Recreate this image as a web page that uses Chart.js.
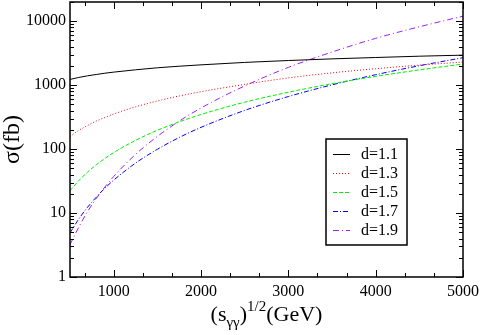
<!DOCTYPE html>
<html>
<head>
<meta charset="utf-8">
<script src="https://cdn.jsdelivr.net/npm/chart.js@4.4.0/dist/chart.umd.min.js"></script>
<style>
  html, body { margin: 0; padding: 0; background: #fff; }
  #canvasArea { width: 482px; height: 335px; }
</style>
</head>
<body>
<div id="canvasArea"><canvas id="graphCanvas"></canvas></div>
<script>
// sqrt(s_gg) in GeV
const energies = [500, 600, 700, 800, 900, 1000, 1250, 1500, 1750, 2000, 2500, 3000, 3500, 4000, 4500, 5000];
// sigma (fb) for each d
const d11 = [1230, 1320, 1400, 1470, 1540, 1600, 1740, 1870, 1980, 2080, 2270, 2430, 2580, 2710, 2840, 2950];
const d13 = [158, 196, 234, 274, 313, 354, 459, 566, 678, 791, 1030, 1300, 1560, 1810, 2060, 2300];
const d15 = [22.4, 32.1, 43.5, 56.8, 71.6, 88.3, 137, 197, 267, 348, 542, 776, 1054, 1374, 1734, 2140];
const d17 = [4.9, 8.05, 12.3, 17.7, 24.5, 32.7, 60.4, 99.3, 152, 219, 403, 664, 1012, 1459, 2014, 2690];
const d19 = [3.2, 6.0, 10.5, 16.8, 25.6, 37.3, 82.6, 158, 274, 440, 973, 1900, 3300, 5400, 8200, 12000];

const seriesLabels = ["d=1.1", "d=1.3", "d=1.5", "d=1.7", "d=1.9"];
const xTicks = [1000, 2000, 3000, 4000, 5000];
const yTicks = [1, 10, 100, 1000, 10000];

const serif = "'Liberation Serif', 'DejaVu Serif', serif";

function pts(arr) {
  return energies.map(function (e, i) { return { x: e, y: arr[i] }; });
}

function line(label, arr, color, dash) {
  return {
    label: label,
    data: pts(arr),
    borderColor: color,
    backgroundColor: color,
    borderWidth: 1,
    borderDash: dash,
    pointRadius: 0,
    fill: false,
    cubicInterpolationMode: "monotone",
  };
}

var chartData = {
  datasets: [
    line(seriesLabels[0], d11, "#000000", []),
    line(seriesLabels[1], d13, "#ff0000", [1, 2]),
    line(seriesLabels[2], d15, "#00ee00", [4, 2]),
    line(seriesLabels[3], d17, "#0000ff", [5, 2, 1, 2]),
    line(seriesLabels[4], d19, "#a020f0", [6, 3, 1, 3]),
  ],
};

// inward ticks on all four sides, frame, titles and the boxed legend
const frameAndLegend = {
  id: "frameAndLegend",
  afterDraw(chart) {
    const ctx = chart.ctx;
    const a = chart.chartArea;
    const x = chart.scales.x;
    const y = chart.scales.y;
    ctx.save();
    ctx.strokeStyle = "#000";
    ctx.lineWidth = 1;
    ctx.setLineDash([]);

    // x ticks every 1000/3, major on thousands
    for (let k = 2; k <= 15; k++) {
      const v = k * 1000 / 3;
      const px = Math.round(x.getPixelForValue(v)) + 0.5;
      const len = k % 3 === 0 ? 7 : 4;
      ctx.beginPath();
      ctx.moveTo(px, a.bottom); ctx.lineTo(px, a.bottom - len);
      ctx.moveTo(px, a.top); ctx.lineTo(px, a.top + len);
      ctx.stroke();
    }
    // y log ticks
    for (let d = 0; d <= 4; d++) {
      for (let m = 1; m <= 9; m++) {
        const v = m * Math.pow(10, d);
        if (v > y.max) continue;
        const py = Math.round(y.getPixelForValue(v)) + 0.5;
        const len = m === 1 ? 7 : 4;
        ctx.beginPath();
        ctx.moveTo(a.left, py); ctx.lineTo(a.left + len, py);
        ctx.moveTo(a.right, py); ctx.lineTo(a.right - len, py);
        ctx.stroke();
      }
    }
    // frame
    ctx.lineWidth = 1.5;
    ctx.strokeRect(a.left, a.top, a.right - a.left, a.bottom - a.top);

    // y title
    ctx.fillStyle = "#000";
    ctx.save();
    ctx.translate(19, (a.top + a.bottom) / 2);
    ctx.rotate(-Math.PI / 2);
    ctx.font = "24px " + serif;
    ctx.textAlign = "center";
    ctx.textBaseline = "alphabetic";
    ctx.fillText("\u03c3(fb)", 0, 0);
    ctx.restore();

    // x title: (s_γγ)^1/2(GeV)
    const parts = [
      { t: "(s", f: 22, dy: 0 },
      { t: "\u03b3\u03b3", f: 15, dy: 6 },
      { t: ")", f: 22, dy: 0 },
      { t: "1/2", f: 15, dy: -10 },
      { t: "(GeV)", f: 22, dy: 0 },
    ];
    let w = 0;
    parts.forEach(function (p) { ctx.font = p.f + "px " + serif; p.w = ctx.measureText(p.t).width; w += p.w; });
    let cx = (a.left + a.right) / 2 - w / 2;
    const base = 321;
    ctx.textAlign = "left";
    parts.forEach(function (p) {
      ctx.font = p.f + "px " + serif;
      ctx.fillText(p.t, cx, base + p.dy);
      cx += p.w;
    });

    // legend box
    const lx = 326, ly = 139, lw = 81, lh = 106;
    ctx.fillStyle = "#fff";
    ctx.fillRect(lx, ly, lw, lh);
    ctx.lineWidth = 1.5;
    ctx.strokeRect(lx, ly, lw, lh);
    ctx.font = "16px " + serif;
    ctx.textBaseline = "middle";
    chart.data.datasets.forEach(function (ds, i) {
      const yy = Math.round(ly + 15 + i * 19) + 0.5;
      ctx.strokeStyle = ds.borderColor;
      ctx.lineWidth = 1;
      ctx.setLineDash(ds.borderDash);
      ctx.beginPath();
      ctx.moveTo(333, yy); ctx.lineTo(350, yy);
      ctx.stroke();
      ctx.setLineDash([]);
      ctx.fillStyle = "#000";
      ctx.fillText(ds.label, 361, yy);
    });
    ctx.restore();
  },
};

var graphTarget = document.getElementById("graphCanvas");
var lineGraph = new Chart(graphTarget, {
  type: "line",
  data: chartData,
  plugins: [frameAndLegend],
  options: {
    responsive: true,
    maintainAspectRatio: false,
    animation: false,
    devicePixelRatio: 1,
    layout: { padding: { top: 2, right: 19, left: 0, bottom: 0 } },
    plugins: { legend: { display: false }, tooltip: { enabled: false } },
    scales: {
      x: {
        type: "linear",
        min: 500,
        max: 5000,
        grid: { display: false, drawTicks: false },
        border: { display: false },
        afterBuildTicks: function (s) { s.ticks = xTicks.map(function (v) { return { value: v }; }); },
        afterFit: function (s) {
          s.height = 58;
          s.paddingLeft = 0; s.paddingRight = 0;
        },
        ticks: {
          padding: 5,
          color: "#000",
          font: { family: serif, size: 16 },
          maxRotation: 0,
          autoSkip: false,
          callback: function (v) { return String(v); },
        },
      },
      y: {
        type: "logarithmic",
        min: 1,
        max: 20000,
        grid: { display: false, drawTicks: false },
        border: { display: false },
        afterBuildTicks: function (s) { s.ticks = yTicks.map(function (v) { return { value: v }; }); },
        afterFit: function (s) {
          s.width = 70;
          s.paddingTop = 0; s.paddingBottom = 0;
        },
        ticks: {
          padding: 4,
          color: "#000",
          font: { family: serif, size: 16 },
          autoSkip: false,
          callback: function (v) { return String(v); },
        },
      },
    },
  },
});
</script>
</body>
</html>
